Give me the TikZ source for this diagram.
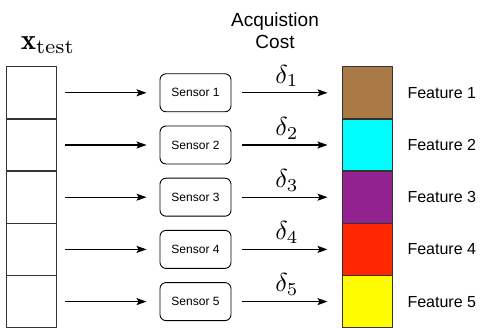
\documentclass[tikz,border=0pt]{standalone}
\usepackage{fontspec}
\setsansfont{Liberation Sans}
\usetikzlibrary{arrows.meta}
\definecolor{fbrown}{RGB}{169,122,69}
\definecolor{fcyan}{RGB}{0,253,255}
\definecolor{fpurple}{RGB}{146,34,143}
\definecolor{fred}{RGB}{255,38,0}
\definecolor{fyellow}{RGB}{255,251,0}
\tikzset{
 cell/.style={draw=black!80, line width=1.4pt, minimum width=50pt, minimum height=52.2pt, inner sep=0pt, outer sep=0pt},
 sensorbox/.style={draw, line width=0.9pt, rounded corners=6pt, minimum width=71pt, minimum height=38pt, font=\sffamily\fontsize{12}{14}\selectfont},
 flow/.style={line width=1.1pt, -{Stealth[length=10pt,width=7pt,inset=2pt]}}
}
\begin{document}
\begin{tikzpicture}[x=1pt, y=-1pt, line join=round]
 \useasboundingbox (0,0) rectangle (481,328);
 \def\rowh{52.2}
 \node (xtest) at (48,45) {\scalebox{2.9}{$\mathbf{x}_{\mathrm{test}}$}};
 \node[font=\sffamily\fontsize{19}{22}\selectfont, align=center] (cost) at (275,31) {Acquistion\\Cost};
 \foreach \i/\col in {1/fbrown,2/fcyan,3/fpurple,4/fred,5/fyellow}{
  \node[cell] (in\i) at (31.7,{66.7+\rowh*(\i-0.5)}) {};
  \node[cell, fill=\col] (f\i) at (367.5,{66.7+\rowh*(\i-0.5)}) {};
  \node[sensorbox] (s\i) at (195.5,{66.7+\rowh*(\i-0.5)}) {Sensor \i};
  \node[anchor=west, font=\sffamily\fontsize{16}{18}\selectfont] (lab\i) at (404,{66.7+\rowh*(\i-0.5)}) {Feature \i};
  \draw[flow, shorten <=8pt, shorten >=13pt] (in\i) -- (s\i);
  \draw[flow, shorten <=11pt, shorten >=15pt] (s\i) -- node[above=2pt] {\scalebox{2.6}{$\delta_{\i}$}} (f\i);
 }
\end{tikzpicture}
\end{document}
